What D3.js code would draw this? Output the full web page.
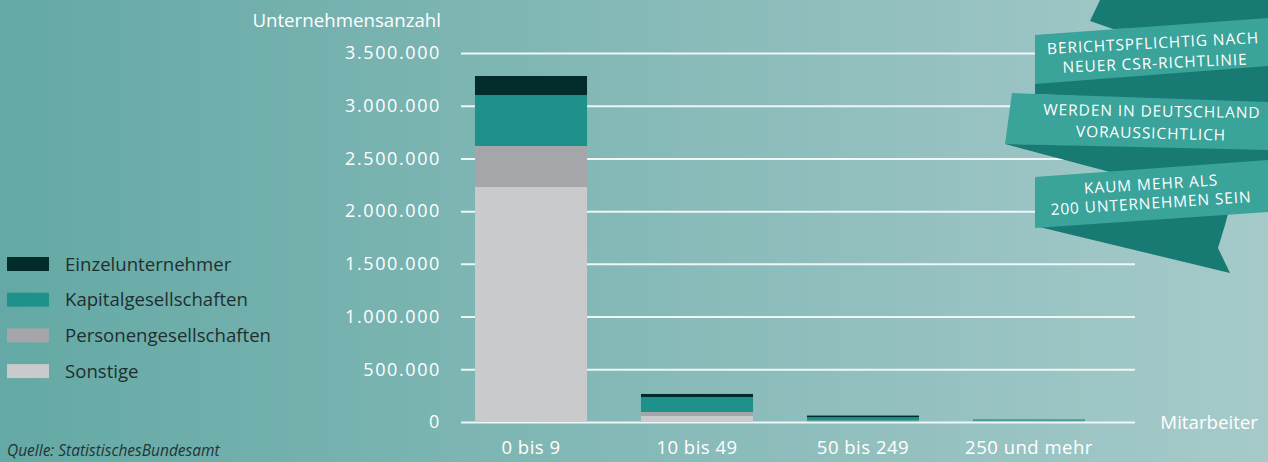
<!DOCTYPE html>
<html>
<head>
<meta charset="utf-8">
<script src="https://cdn.jsdelivr.net/npm/d3@7"></script>
<style>
  html, body { margin: 0; padding: 0; overflow: hidden; }
  body { font-family: "Open Sans", sans-serif; }
  svg { display: block; }
</style>
</head>
<body>
<script>
// data
var categories = ["0 bis 9", "10 bis 49", "50 bis 249", "250 und mehr"];
var sonstige = [2229000, 57000, 6000, 8000];
var personen = [389000, 38000, 8000, 5000];
var kapital = [483000, 142000, 31000, 10000];
var einzel = [181000, 29000, 16000, 1000];
var seriesNames = ["Sonstige", "Personengesellschaften", "Kapitalgesellschaften", "Einzelunternehmer"];
var seriesColors = ["#c9cacc", "#a5a6aa", "#1f918b", "#022b2c"];
var yTicks = [0, 500000, 1000000, 1500000, 2000000, 2500000, 3000000, 3500000];

var width = 1268, height = 462;

var svg = d3.select("body").append("svg")
    .attr("width", width)
    .attr("height", height);

// background
var grad = svg.append("defs").append("linearGradient")
    .attr("id", "bg")
    .attr("x1", "0%").attr("x2", "100%").attr("y1", "0%").attr("y2", "0%");
grad.append("stop").attr("offset", "0%").attr("stop-color", "#64a9a5");
grad.append("stop").attr("offset", "100%").attr("stop-color", "#a6caca");
svg.append("rect").attr("width", width).attr("height", height).attr("fill", "url(#bg)");

var table = categories.map(function (c, i) {
    return {
        cat: c,
        Sonstige: sonstige[i],
        Personengesellschaften: personen[i],
        Kapitalgesellschaften: kapital[i],
        Einzelunternehmer: einzel[i]
    };
});
var stacked = d3.stack().keys(seriesNames)(table);

var x = d3.scaleBand()
    .domain(categories)
    .range([448, 1112])
    .paddingInner(0.325)
    .paddingOuter(0.1625);

var y = d3.scaleLinear()
    .domain([0, 3500000])
    .range([422, 53]);

var color = d3.scaleOrdinal().domain(seriesNames).range(seriesColors);

var de = d3.formatLocale({ decimal: ",", thousands: ".", grouping: [3], currency: ["", " €"] });
var fmt = de.format(",d");

// y axis with gridlines
var gridLeft = 461, gridRight = 1135;
var yAxis = svg.append("g")
    .attr("transform", "translate(" + gridLeft + ",0)")
    .call(d3.axisLeft(y)
        .tickValues(yTicks)
        .tickFormat(fmt)
        .tickSize(-(gridRight - gridLeft))
        .tickPadding(20));
yAxis.select(".domain").remove();
yAxis.selectAll(".tick line")
    .attr("stroke", "#eef6f6")
    .attr("stroke-width", 2);
yAxis.selectAll(".tick text")
    .attr("fill", "#ffffff")
    .style("font-family", "Open Sans")
    .style("font-size", "18px")
    .style("letter-spacing", "1.6px");

// bars
svg.append("g")
    .selectAll("g")
    .data(stacked)
    .enter().append("g")
    .attr("fill", function (d) { return color(d.key); })
    .selectAll("rect")
    .data(function (d) { return d; })
    .enter().append("rect")
    .attr("x", function (d) { return x(d.data.cat); })
    .attr("width", x.bandwidth())
    .attr("y", function (d) { return y(d[1]); })
    .attr("height", function (d) { return y(d[0]) - y(d[1]); });

// x axis labels
var xAxis = svg.append("g")
    .attr("transform", "translate(0," + y(0) + ")")
    .call(d3.axisBottom(x).tickSize(0).tickPadding(19));
xAxis.select(".domain").remove();
xAxis.selectAll(".tick text")
    .attr("fill", "#ffffff")
    .style("font-family", "Open Sans")
    .style("font-size", "18.5px")
    .style("letter-spacing", "0.5px");

// axis titles
svg.append("text")
    .attr("x", 441).attr("y", 27)
    .attr("text-anchor", "end")
    .attr("fill", "#ffffff")
    .style("font-size", "18.7px")
    .text("Unternehmensanzahl");

svg.append("text")
    .attr("x", 1258).attr("y", 429)
    .attr("text-anchor", "end")
    .attr("fill", "#ffffff")
    .style("font-size", "18.7px")
    .text("Mitarbeiter");

// legend, top to bottom
var legendOrder = seriesNames.slice().reverse();
var legend = svg.append("g")
    .selectAll("g")
    .data(legendOrder)
    .enter().append("g")
    .attr("transform", function (d, i) { return "translate(7," + (264 + i * 35.7) + ")"; });
legend.append("rect")
    .attr("y", -7)
    .attr("width", 42)
    .attr("height", 14)
    .attr("fill", function (d) { return color(d); });
legend.append("text")
    .attr("x", 58)
    .attr("dy", "0.35em")
    .attr("fill", "#1f2f30")
    .style("font-size", "18.6px")
    .text(function (d) { return d; });

// source
svg.append("text")
    .attr("x", 7).attr("y", 456)
    .attr("fill", "#1f3536")
    .style("font-size", "15.5px")
    .style("font-style", "italic")
    .text("Quelle: StatistischesBundesamt");

// ribbon banner (decoration)
var dark = "#177a73", light = "#3aa39a";
var shapes = [
    { fill: dark, pts: [[1100, 0], [1268, 0], [1268, 25], [1113, 29], [1090, 21]] },
    { fill: light, pts: [[1035, 35], [1268, 18], [1268, 70], [1035, 85]] },
    { fill: dark, pts: [[1035, 84], [1268, 66], [1268, 105], [1035, 94]] },
    { fill: light, pts: [[1012, 93], [1268, 102], [1268, 152], [1005, 144]] },
    { fill: dark, pts: [[1005, 144], [1268, 150], [1268, 165], [1110, 172]] },
    { fill: dark, pts: [[1035, 226], [1228, 214], [1225, 225], [1218, 248], [1230, 273]] },
    { fill: light, pts: [[1035, 177], [1268, 160], [1268, 212], [1035, 228]] }
];
svg.append("g").selectAll("polygon")
    .data(shapes)
    .enter().append("polygon")
    .attr("points", function (d) { return d.pts.join(" "); })
    .attr("fill", function (d) { return d.fill; });

var bannerText = [
    { t: "BERICHTSPFLICHTIG NACH", x: 1153, y: 43, r: -3 },
    { t: "NEUER CSR-RICHTLINIE", x: 1155, y: 63, r: -2.5 },
    { t: "WERDEN IN DEUTSCHLAND", x: 1152, y: 111, r: 0.8 },
    { t: "VORAUSSICHTLICH", x: 1151, y: 133, r: 1.5 },
    { t: "KAUM MEHR ALS", x: 1151, y: 184, r: -3.5 },
    { t: "200 UNTERNEHMEN SEIN", x: 1151, y: 203, r: -3.7 }
];
svg.append("g").selectAll("text")
    .data(bannerText)
    .enter().append("text")
    .attr("transform", function (d) { return "translate(" + d.x + "," + d.y + ") rotate(" + d.r + ")"; })
    .attr("text-anchor", "middle")
    .attr("dy", "0.36em")
    .attr("fill", "#ffffff")
    .style("font-size", "15.5px")
    .style("letter-spacing", "0.9px")
    .text(function (d) { return d.t; });
</script>
</body>
</html>
